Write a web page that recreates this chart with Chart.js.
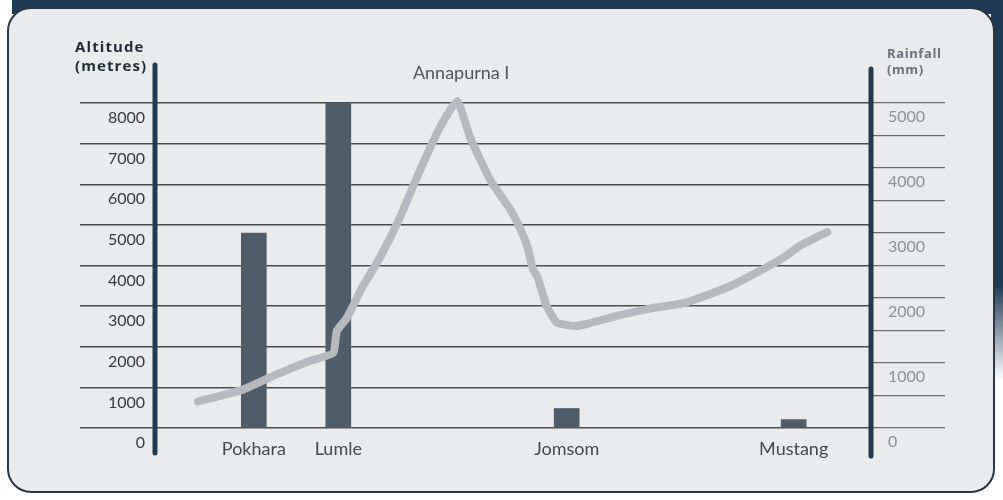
<!DOCTYPE html>
<html>
<head>
<meta charset="utf-8">
<script src="https://cdn.jsdelivr.net/npm/chart.js@4/dist/chart.umd.min.js"></script>
<style>
  html, body { margin: 0; padding: 0; background: #fff; }
  #wrap { position: relative; width: 1003px; height: 500px; overflow: hidden; }
  .band { position: absolute; left: 12px; top: 0; width: 991px; height: 14px; background: #1d3a56; }
  .edge { position: absolute; right: 0; top: 0; width: 12px; height: 380px;
          background: linear-gradient(#1d3a56 0%, #1d3a56 75%, rgba(29,58,86,0) 100%); }
  .card { position: absolute; left: 7px; top: 7px; width: 984px; height: 482px;
          border: 2px solid #2c3640; border-radius: 24px; background: #eaebec; }
  canvas { position: absolute; left: 0; top: 0; }
  .axis-title { position: absolute; font-family: "Open Sans", sans-serif; font-weight: 700;
                font-size: 15px; line-height: 19px; }
  #altTitle { left: 75px; top: 37px; color: #1f2a36; letter-spacing: 1.1px; }
  #rainTitle { left: 887px; top: 45px; color: #6c7278; font-size: 13px; line-height: 16px; letter-spacing: 0.6px; }
</style>
</head>
<body>
<div id="wrap">
  <div class="band"></div>
  <div class="edge"></div>
  <div class="card"></div>
  <canvas id="profile" width="1003" height="500"></canvas>
  <div class="axis-title" id="altTitle">Altitude<br>(metres)</div>
  <div class="axis-title" id="rainTitle">Rainfall<br>(mm)</div>
</div>
<script>
// weather stations along the route, with distance along the section (0-100)
const stations = ['Pokhara', 'Lumle', 'Jomsom', 'Mustang'];
const stationDistance = [13.8, 25.6, 57.5, 89.2];
const rainfall = [3000, 5000, 300, 130];

// altitude profile of the section
const profileDistance = [6.0, 12.3, 17.0, 21.6, 24.9, 25.4, 26.8, 28.2, 28.9, 31.4, 34.2, 37.0, 39.8,
  42.2, 44.0, 46.8, 49.6, 50.6, 52.0, 52.8, 53.4, 54.7, 56.1, 58.4, 60.3, 64.5, 69.1, 73.7, 77.1,
  80.7, 84.5, 87.7, 90.1, 92.9, 93.9];
const profileAltitude = [650, 945, 1320, 1650, 1850, 2390, 2710, 3200, 3450, 4190, 5180, 6340, 7400,
  8050, 7160, 6110, 5380, 5060, 4470, 3900, 3730, 3000, 2600, 2510, 2560, 2760, 2940, 3070, 3270,
  3520, 3870, 4190, 4490, 4740, 4820];
const peakName = 'Annapurna I';

const altitudeTicks = [0, 1000, 2000, 3000, 4000, 5000, 6000, 7000, 8000];
const rainfallTicks = [0, 500, 1000, 1500, 2000, 2500, 3000, 3500, 4000, 4500, 5000];
const rainfallLabels = ['0', '', '1000', '', '2000', '', '3000', '', '4000', '', '5000'];

const navy = '#223a50';
const rule = '#4a4d50';

// thick axis posts, running past the plot down beside the labels
const axisPosts = {
  id: 'axisPosts',
  afterDraw(chart) {
    const { ctx, chartArea } = chart;
    ctx.save();
    ctx.strokeStyle = navy;
    ctx.lineWidth = 5;
    ctx.lineCap = 'round';
    ctx.beginPath();
    ctx.moveTo(chartArea.left, chartArea.top);
    ctx.lineTo(chartArea.left, chartArea.bottom + 23);
    ctx.moveTo(chartArea.right, chartArea.top + 4);
    ctx.lineTo(chartArea.right, chartArea.bottom + 26);
    ctx.stroke();
    ctx.restore();
  }
};

// label over the highest point of the profile
const peakLabel = {
  id: 'peakLabel',
  afterDatasetsDraw(chart) {
    const meta = chart.getDatasetMeta(0);
    let top = 0;
    profileAltitude.forEach((a, i) => { if (a > profileAltitude[top]) top = i; });
    const pt = meta.data[top];
    const ctx = chart.ctx;
    ctx.save();
    ctx.font = '18px Lato, sans-serif';
    ctx.fillStyle = '#505458';
    ctx.textAlign = 'center';
    ctx.textBaseline = 'middle';
    ctx.fillText(peakName, pt.x + 4, pt.y - 28);
    ctx.restore();
  }
};

new Chart(document.getElementById('profile').getContext('2d'), {
  data: {
    datasets: [{
      type: 'line',
      label: 'Altitude',
      yAxisID: 'y',
      data: profileDistance.map((d, i) => ({ x: d, y: profileAltitude[i] })),
      borderColor: '#b6babe',
      borderWidth: 8,
      borderCapStyle: 'round',
      borderJoinStyle: 'round',
      pointRadius: 0,
      tension: 0.15,
      order: 0
    }, {
      type: 'bar',
      label: 'Rainfall',
      yAxisID: 'y1',
      data: stationDistance.map((d, i) => ({ x: d, y: rainfall[i] })),
      backgroundColor: '#4f5d6b',
      barThickness: 25,
      order: 1
    }]
  },
  options: {
    responsive: false,
    animation: false,
    events: [],
    layout: { padding: { top: 65, left: 0, right: 0, bottom: 0 } },
    plugins: { legend: { display: false }, tooltip: { enabled: false } },
    scales: {
      x: {
        type: 'linear',
        min: 0,
        max: 100,
        offset: false,
        grid: { display: false },
        border: { display: false },
        afterBuildTicks: s => { s.ticks = stationDistance.map(v => ({ value: v })); },
        afterFit: s => { s.height = 70; },
        ticks: {
          autoSkip: false,
          maxRotation: 0,
          padding: 0,
          color: '#45494d',
          font: { family: 'Lato', size: 18 },
          callback: v => stations[stationDistance.indexOf(v)]
        }
      },
      y: {
        position: 'left',
        min: -49.2,
        max: 8935,
        afterBuildTicks: s => { s.ticks = altitudeTicks.map(v => ({ value: v })); },
        afterFit: s => { s.width = 155; },
        grid: { color: rule, lineWidth: 1.4, tickLength: 75, tickColor: rule },
        border: { display: false },
        ticks: {
          padding: -65,
          labelOffset: 15,
          color: '#363a3e',
          font: { family: 'Lato', size: 16 },
          callback: v => String(v)
        }
      },
      y1: {
        position: 'right',
        min: -30.75,
        max: 5584.375,
        afterBuildTicks: s => { s.ticks = rainfallTicks.map(v => ({ value: v })); },
        afterFit: s => { s.width = 132; },
        grid: { drawOnChartArea: false, color: rule, lineWidth: 1.2, tickLength: 74, tickColor: '#6a6d70' },
        border: { display: false },
        ticks: {
          autoSkip: false,
          padding: -57,
          labelOffset: 14,
          color: '#8d9194',
          font: { family: 'Lato', size: 16 },
          callback: v => rainfallLabels[rainfallTicks.indexOf(v)]
        }
      }
    }
  },
  plugins: [peakLabel, axisPosts]
});
</script>
</body>
</html>
